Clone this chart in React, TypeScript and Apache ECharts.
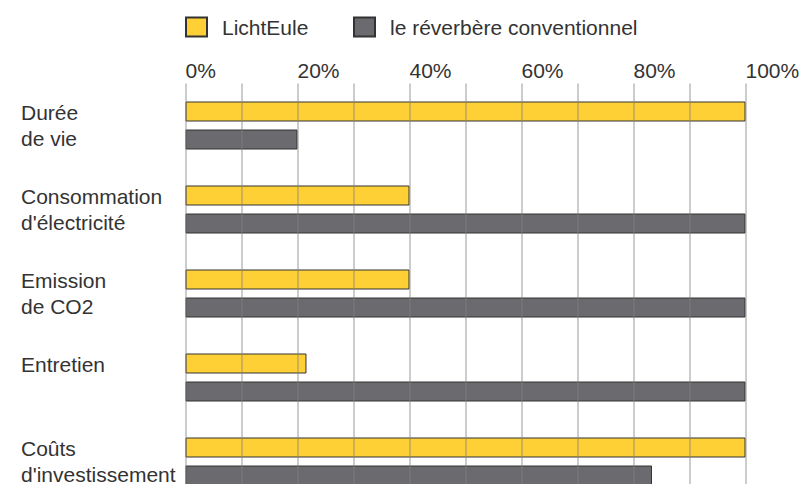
import React, { useEffect, useRef } from "react";
import * as echarts from "echarts";

const categories = [
  "Durée\nde vie",
  "Consommation\nd'électricité",
  "Emission\nde CO2",
  "Entretien\n",
  "Coûts\nd'investissement",
];
const seriesNames = ["LichtEule", "le réverbère conventionnel"];
const lichtEule = [100, 40, 40, 21.6, 100];
const conventionnel = [20, 100, 100, 100, 83.3];
const xTickLabels = ["0%", "20%", "40%", "60%", "80%", "100%"];

const FONT = "'Liberation Sans', Arial, Helvetica, sans-serif";
const TEXT = "#333333";
const YELLOW = "#FFD035";
const GRAY = "#6B6B6F";

export default function App() {
  const ref = useRef<HTMLDivElement>(null);
  useEffect(() => {
    if (!ref.current) return;
    const chart = echarts.init(ref.current, null, { renderer: "svg" });
    const legendText = {
      fontFamily: FONT,
      fontSize: 21,
      color: TEXT,
      padding: [0, 0, 0, 10],
    };
    chart.setOption({
      animation: false,
      textStyle: { fontFamily: FONT },
      legend: [
        {
          data: [seriesNames[0]],
          left: 185,
          top: 16.5,
          padding: 0,
          itemWidth: 21,
          itemHeight: 19,
          icon: "rect",
          textStyle: legendText,
        },
        {
          data: [seriesNames[1]],
          left: 353,
          top: 16.5,
          padding: 0,
          itemWidth: 21,
          itemHeight: 19,
          icon: "rect",
          textStyle: legendText,
        },
      ],
      grid: {
        left: 185.5,
        right: 60.5,
        top: 83.5,
        height: 420,
        containLabel: false,
        outerBoundsMode: "none",
      },
      xAxis: {
        type: "value",
        position: "top",
        min: 0,
        max: 100,
        interval: 10,
        z: 5,
        axisLine: { show: false },
        axisTick: { show: false },
        splitLine: {
          show: true,
          lineStyle: { color: "rgba(128,128,128,0.4)", width: 2 },
        },
        axisLabel: {
          align: "left",
          margin: 3,
          fontSize: 21,
          color: TEXT,
          fontFamily: FONT,
          formatter: (v: number) =>
            v % 20 === 0 ? xTickLabels[v / 20] : "",
        },
      },
      yAxis: {
        type: "category",
        data: categories,
        inverse: true,
        axisLine: { show: false },
        axisTick: { show: false },
        splitLine: { show: false },
        axisLabel: {
          align: "left",
          margin: 164.5,
          fontSize: 21,
          lineHeight: 26,
          color: TEXT,
          fontFamily: FONT,
        },
      },
      series: [
        {
          name: seriesNames[0],
          type: "bar",
          data: lichtEule,
          barWidth: 20,
          barGap: "40%",
          itemStyle: { color: YELLOW, borderColor: "#333", borderWidth: 1 },
        },
        {
          name: seriesNames[1],
          type: "bar",
          data: conventionnel,
          barWidth: 20,
          barGap: "40%",
          itemStyle: { color: GRAY, borderColor: "#333", borderWidth: 1 },
        },
      ],
    });
    return () => chart.dispose();
  }, []);
  return (
    <div
      ref={ref}
      style={{ position: "absolute", left: 0, top: 0, width: 806, height: 484 }}
    />
  );
}
